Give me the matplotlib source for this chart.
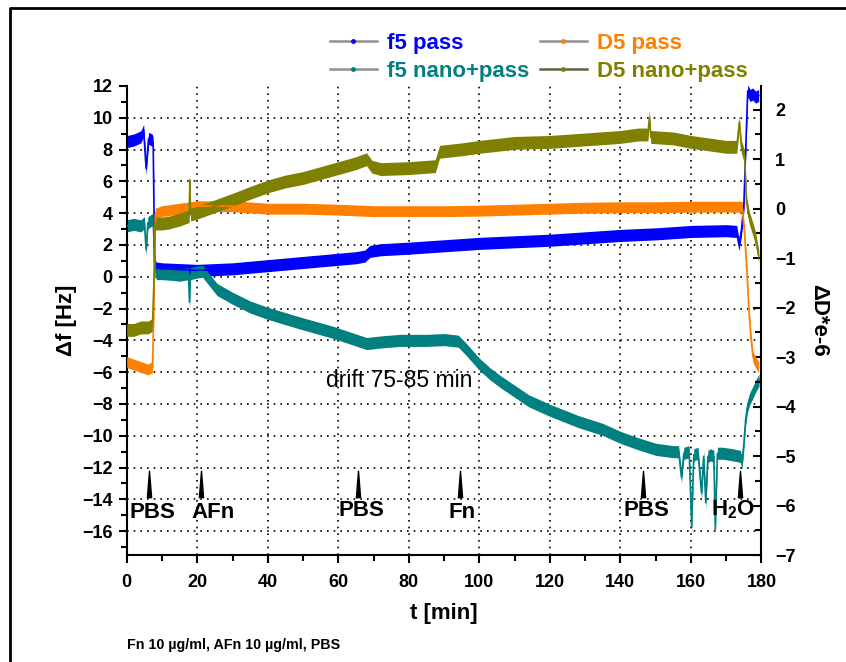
import matplotlib
matplotlib.use("Agg")
import matplotlib.pyplot as plt
from matplotlib.lines import Line2D
from matplotlib.path import Path
import numpy as np

plt.rcParams['font.family'] = ['Liberation Sans', 'DejaVu Sans']
plt.rcParams['font.weight'] = 'bold'
plt.rcParams['mathtext.fontset'] = 'custom'
plt.rcParams['mathtext.rm'] = 'Liberation Sans:bold'
plt.rcParams['mathtext.bf'] = 'Liberation Sans:bold'

# ---------------- data ----------------
t_f5_pass = [0, 2, 4, 4.8, 5.5, 6.2, 7.2, 7.5, 7.9, 8.3, 10, 15, 20, 25, 30, 35, 40, 45, 50, 55, 60, 65,
             67.5, 69, 72, 80, 90, 100, 110, 120, 130, 140, 150, 160, 170, 173, 173.6, 174.3, 175, 175.6,
             176.1, 176.8, 177.5, 178.3, 179.2]
f5_pass = [8.5, 8.6, 8.8, 9.2, 6.8, 8.7, 8.6, 8.4, 1.0, 0.55, 0.5, 0.45, 0.4, 0.45, 0.5, 0.6, 0.7, 0.8, 0.9, 1.0,
           1.1, 1.2, 1.3, 1.6, 1.7, 1.8, 1.95, 2.1, 2.2, 2.3, 2.45, 2.6, 2.7, 2.85, 2.9, 2.85, 2.0, 2.9, 4.5,
           8.5, 11.7, 11.4, 11.5, 11.3, 11.4]

t_f5_nano = [0, 2, 4, 5, 5.5, 6, 7.3, 7.6, 8.0, 8.5, 10, 13, 15, 17.5, 17.8, 18.1, 20, 21.5, 25.6, 30, 35, 40,
             49, 58.6, 68, 72, 77.5, 85, 90, 94, 96, 98, 100, 103, 106, 110, 114, 120, 128, 135, 140, 145, 150,
             155, 156.5, 157.3, 158, 159.5, 160.2, 160.8, 162, 163, 163.6, 164.2, 164.8, 165.6, 166.5, 166.9,
             167.5, 169, 172, 174, 174.5, 175, 175.5, 176, 176.6, 177.5, 178.3, 179.3]
f5_nano = [3.2, 3.3, 3.2, 3.4, 1.7, 3.4, 3.6, 3.0, 0.4, 0.2, 0.2, 0.15, 0.1, 0.2, -1.6, 0.2, 0.3, 0.35, -0.8,
           -1.35, -1.9, -2.3, -2.9, -3.5, -4.2, -4.1, -4.0, -4.0, -3.95, -4.05, -4.5, -5.0, -5.5, -6.1, -6.6,
           -7.2, -7.8, -8.4, -9.1, -9.6, -10.1, -10.5, -10.85, -11.0, -11.0, -12.6, -11.1, -11.0, -15.7, -11.2,
           -11.1, -13.6, -11.3, -14.2, -11.3, -11.2, -11.3, -15.9, -11.1, -11.1, -11.2, -11.3, -11.7, -10.5,
           -9.0, -8.2, -7.7, -7.3, -6.9, -6.5]

t_d5_pass = [0, 2, 4, 6, 7.3, 7.7, 8.1, 10, 15, 20, 30, 40, 50, 60, 70, 80, 90, 100, 110, 120, 130, 140, 150,
             160, 170, 174.5, 175.2, 175.8, 176.4, 177, 177.6, 178.3, 179.2]
d5_pass = [-3.1, -3.15, -3.2, -3.25, -3.2, -2.0, -0.1, -0.05, 0.0, 0.05, 0.05, 0.0, 0.0, -0.02, -0.05, -0.05,
           -0.05, -0.04, -0.02, 0.0, 0.02, 0.03, 0.03, 0.04, 0.04, 0.04, -0.5, -1.2, -2.0, -2.6, -3.0, -3.1, -3.2]

t_d5_nano = [0, 2, 4, 6, 7.3, 7.7, 8.1, 10, 12, 15, 17.7, 17.9, 18.1, 20, 25, 30, 35, 40, 45, 50, 55, 60, 65,
             68, 69.5, 72, 80, 87.5, 88.7, 95, 100, 110, 120, 130, 140, 145, 147.8, 148.2, 148.6, 155, 160, 165,
             170, 173, 173.7, 174.3, 175.2, 175.8, 176.6, 177.5, 178.3, 179.2]
d5_nano = [-2.45, -2.45, -2.4, -2.4, -2.35, -1.5, -0.3, -0.3, -0.28, -0.22, -0.15, 0.58, -0.12, -0.08, 0.05,
           0.18, 0.32, 0.45, 0.55, 0.62, 0.72, 0.82, 0.92, 1.0, 0.85, 0.8, 0.82, 0.86, 1.15, 1.2, 1.25, 1.33,
           1.35, 1.4, 1.45, 1.5, 1.5, 1.85, 1.45, 1.42, 1.35, 1.3, 1.25, 1.25, 1.75, 1.25, 1.05, 0.1, -0.2,
           -0.4, -0.6, -0.95]

event_arrow_t = [6.4, 21, 65.7, 94.6, 146.3, 174]
event_label_t = [7.3, 24.6, 66.5, 95, 147.3, 171.8]
event_label_y = [-14.85, -14.85, -14.67, -14.8, -14.67, -14.67]
event_labels = ['PBS', 'AFn', 'PBS', 'Fn', 'PBS', r'H$_2$O']

x_ticks = list(range(0, 181, 20))
y_left_ticks = list(range(-16, 13, 2))
y_right_ticks = list(range(-7, 3, 1))

# ---------------- style ----------------
C_BLUE = '#0000ff'
C_ORANGE = '#ff8000'
C_TEAL = '#008080'
C_OLIVE = '#808000'

fig = plt.figure(figsize=(8.46, 6.62), dpi=100)
ax = fig.add_axes([0.1498, 0.1616, 0.7503, 0.7085])
ax2 = ax.twinx()

ax.set_xlim(0, 180)
ax.set_ylim(-17.5, 12)
ax2.set_ylim(-7, 2.48)

# grid (dotted)
for xv in x_ticks[1:-1]:
    ax.axvline(xv, color='black', lw=1.2, ls=(0, (1, 3)), zorder=0)
for yv in y_left_ticks[:-1]:
    ax.axhline(yv, color='black', lw=1.2, ls=(0, (1, 3)), zorder=0)


def band(a, t, v, hw, color):
    t = np.asarray(t, float)
    v = np.asarray(v, float)
    a.fill_between(t, v - hw, v + hw, color=color, lw=0, zorder=2)
    a.plot(t, v, color=color, lw=1.2, zorder=3)


band(ax, t_f5_pass, f5_pass, 0.38, C_BLUE)
band(ax, t_f5_nano, f5_nano, 0.38, C_TEAL)
band(ax2, t_d5_pass, d5_pass, 0.11, C_ORANGE)
band(ax2, t_d5_nano, d5_nano, 0.13, C_OLIVE)

# event markers
tri = Path([(-0.16, -1), (0.16, -1), (0, 1), (-0.16, -1)],
           [Path.MOVETO, Path.LINETO, Path.LINETO, Path.CLOSEPOLY])
ax.plot(event_arrow_t, [-13.03] * len(event_arrow_t), ls='none', marker=tri,
        markersize=19, color='black', zorder=5)
for tx, ty, lab in zip(event_label_t, event_label_y, event_labels):
    ax.text(tx, ty, lab, ha='center', va='center', fontsize=16, fontweight='bold', zorder=6)

ax.text(77.2, -6.5, 'drift 75-85 min', ha='center', va='center', fontsize=16.5,
        fontweight='normal', zorder=6)

# spines / ticks
for a in (ax, ax2):
    a.spines['top'].set_visible(False)
    for s in a.spines.values():
        s.set_linewidth(1.5)
ax.spines['right'].set_visible(False)
ax2.spines['left'].set_visible(False)
ax2.spines['bottom'].set_visible(False)

ax.set_xticks(x_ticks)
ax.set_xticks(list(range(10, 180, 20)), minor=True)
ax.set_yticks(y_left_ticks)
ax.set_yticks(list(range(-17, 12, 2)), minor=True)
ax2.set_yticks(y_right_ticks)
ax2.set_yticks([v + 0.5 for v in range(-7, 2)], minor=True)

ax.tick_params(axis='x', which='major', direction='out', length=6, width=1.5, labelsize=13, pad=8)
ax.tick_params(axis='y', which='major', direction='out', length=6, width=1.5, labelsize=13, pad=4)
ax.tick_params(axis='both', which='minor', direction='out', length=4, width=1.5)
ax2.tick_params(axis='y', which='major', direction='in', length=6, width=1.5, labelsize=13, pad=10)
ax2.tick_params(axis='y', which='minor', direction='in', length=4, width=1.5)

for lab in ax.get_xticklabels() + ax.get_yticklabels() + ax2.get_yticklabels():
    lab.set_fontweight('bold')

ax.set_xlabel('t [min]', fontsize=16, fontweight='bold', labelpad=8)
ax.set_ylabel('Δf [Hz]', fontsize=16, fontweight='bold', labelpad=4)
ax2.set_ylabel('ΔD*e-6', fontsize=16, fontweight='bold', rotation=-90, labelpad=24)

# legend
handles = [
    Line2D([], [], color='#909090', lw=1.8, marker='.', markersize=5, markerfacecolor=C_BLUE, markeredgecolor=C_BLUE),
    Line2D([], [], color='#909090', lw=1.8, marker='.', markersize=5, markerfacecolor=C_TEAL, markeredgecolor=C_TEAL),
    Line2D([], [], color='#909090', lw=1.8, marker='.', markersize=5, markerfacecolor=C_ORANGE, markeredgecolor=C_ORANGE),
    Line2D([], [], color='#606040', lw=1.8, marker='.', markersize=5, markerfacecolor=C_OLIVE, markeredgecolor=C_OLIVE),
]
labels = ['f5 pass', 'f5 nano+pass', 'D5 pass', 'D5 nano+pass']
leg = fig.legend(handles, labels, ncol=2, loc='upper left', bbox_to_anchor=(330 / 846, 1 - 33 / 662),
                 frameon=False, handlelength=2.1, handletextpad=0.45, columnspacing=0.5,
                 labelspacing=0.31, borderpad=0, borderaxespad=0,
                 labelcolor=[C_BLUE, C_TEAL, C_ORANGE, C_OLIVE], prop={'weight': 'bold', 'size': 16})

# caption & frame
fig.text(127 / 846, 1 - 645 / 662, 'Fn 10 µg/ml, AFn 10 µg/ml, PBS', fontsize=10.3, fontweight='bold',
         ha='left', va='center')
fig.add_artist(Line2D([10 / 846, 10 / 846, 1], [0, 1 - 8 / 662, 1 - 8 / 662], transform=fig.transFigure,
                      color='black', lw=2))

fig.savefig('out.png', dpi=100)
